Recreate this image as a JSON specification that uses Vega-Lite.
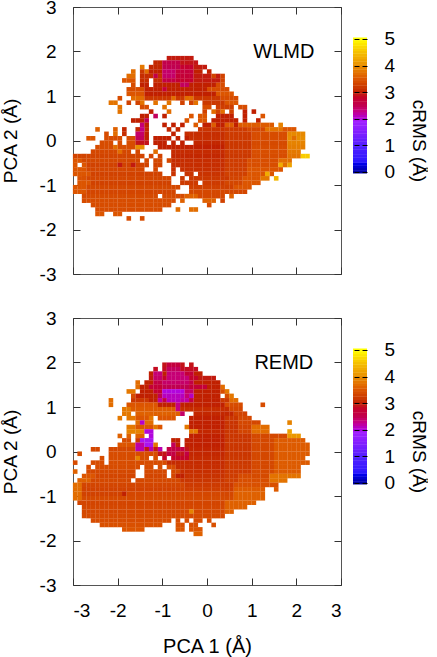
{"$schema":"https://vega.github.io/schema/vega-lite/v6.json","background":"white","padding":{"left":0,"top":-3,"right":0,"bottom":0},"spacing":23,"config":{"font":"Liberation Sans","view":{"stroke":"#555555"},"axis":{"labelFont":"Liberation Sans","titleFont":"Liberation Sans","labelFontSize":19,"titleFontSize":19,"labelColor":"black","titleColor":"black","titleFontWeight":"normal","grid":false,"domain":false,"tickColor":"#333333","tickSize":-7,"labelPadding":10}},
"datasets":{"bar":[{"c":0},{"c":0.1},{"c":0.2},{"c":0.3},{"c":0.4},{"c":0.5},{"c":0.6},{"c":0.7},{"c":0.8},{"c":0.9},{"c":1},{"c":1.1},{"c":1.2},{"c":1.3},{"c":1.4},{"c":1.5},{"c":1.6},{"c":1.7},{"c":1.8},{"c":1.9},{"c":2},{"c":2.1},{"c":2.2},{"c":2.3},{"c":2.4},{"c":2.5},{"c":2.6},{"c":2.7},{"c":2.8},{"c":2.9},{"c":3},{"c":3.1},{"c":3.2},{"c":3.3},{"c":3.4},{"c":3.5},{"c":3.6},{"c":3.7},{"c":3.8},{"c":3.9},{"c":4},{"c":4.1},{"c":4.2},{"c":4.3},{"c":4.4},{"c":4.5},{"c":4.6},{"c":4.7},{"c":4.8},{"c":4.9},{"c":5}],
"w":[
{"y":1.8,"c":2.95,"x":[-0.9,-0.8,-0.7,-0.6,-0.5,-0.4]},
{"y":1.7,"c":3.05,"x":[-1.2,-1.1]},{"y":1.7,"c":2.55,"x":[-1,-0.9,-0.8,-0.7]},{"y":1.7,"c":2.9,"x":[-0.6,-0.5,-0.4,-0.3]},
{"y":1.6,"c":3.8,"x":[-1.5]},{"y":1.6,"c":3.05,"x":[-1.3,-1.2,-1.1]},{"y":1.6,"c":2.5,"x":[-1,-0.9,-0.8,-0.7]},{"y":1.6,"c":2.75,"x":[-0.6,-0.5,-0.4]},{"y":1.6,"c":2.95,"x":[-0.3,-0.2,-0.1]},
{"y":1.5,"c":3.7,"x":[-1.7,-1.4]},{"y":1.5,"c":3.2,"x":[-1.5]},{"y":1.5,"c":3,"x":[-1.3,-1.2,-1.1,-0.3,-0.2,0]},{"y":1.5,"c":2.4,"x":[-1,-0.9,-0.8]},{"y":1.5,"c":2.65,"x":[-0.7,-0.6,-0.5,-0.4]},
{"y":1.4,"c":3.7,"x":[-1.8,-1.7]},{"y":1.4,"c":3.1,"x":[-1.5,-1.4,-1.3,-1.1]},{"y":1.4,"c":2.6,"x":[-1.2]},{"y":1.4,"c":2.4,"x":[-1,-0.9,-0.8]},{"y":1.4,"c":2.7,"x":[-0.7,-0.6,-0.5,-0.4]},{"y":1.4,"c":2.95,"x":[-0.3,-0.2,-0.1,0,0.2]},{"y":1.4,"c":3.3,"x":[0.1,0.3]},
{"y":1.3,"c":3.5,"x":[-1.9,-1.8,-1.7]},{"y":1.3,"c":3.1,"x":[-1.5,-1.4,-1.2,-1.1]},{"y":1.3,"c":2.6,"x":[-1,-0.9,-0.8]},{"y":1.3,"c":2.75,"x":[-0.7,-0.6,-0.5,-0.4]},{"y":1.3,"c":2.95,"x":[-0.3,-0.2,-0.1,0,0.1,0.2]},{"y":1.3,"c":3.3,"x":[0.3]},
{"y":1.2,"c":3.4,"x":[-1.7,0.2,0.3]},{"y":1.2,"c":3,"x":[-1.5,-1.4,-1.2,-1.1,-1,-0.9,-0.8,-0.7,-0.4,-0.3,-0.2,-0.1,0,0.1]},{"y":1.2,"c":2.45,"x":[-0.6,-0.5]},
{"y":1.1,"c":3.4,"x":[-1.8,-1.7,-1.6,-1.5,0,0.1,0.2,0.3,0.4]},{"y":1.1,"c":3,"x":[-1.4,-1.3,-1.2,-1.1,-0.9,-0.8,-0.7,-0.6,-0.5,-0.4,-0.3,-0.2,-0.1]},{"y":1.1,"c":2.7,"x":[-1]},
{"y":1,"c":3.5,"x":[-1.8,-1.7,-1.6,-1.5,0.2,0.3,0.4,0.5]},{"y":1,"c":3,"x":[-1.4,-1.3,-1.2,-1.1,-1,-0.9,-0.8,-0.7,-0.6,-0.5,-0.4,-0.3,-0.2,-0.1,0,0.1]},
{"y":0.9,"c":3.7,"x":[-1.7,-1.6,-1.5,-0.8,-0.5,-0.4]},{"y":0.9,"c":3.4,"x":[-2,0.3,0.4,0.5,0.6]},{"y":0.9,"c":3.2,"x":[-1.4,-1.3,-1.2,-1.1,-1,-0.9,-0.7,-0.6,-0.3,-0.2,-0.1,0,0.1,0.2]},
{"y":0.8,"c":3.75,"x":[-2.2,-2.1,-1.5,-1.2,-0.9,-0.3]},{"y":0.8,"c":3.3,"x":[-1.8,-1.6,-0.6,-0.4]},{"y":0.8,"c":3.2,"x":[-0.1,0,0.1,0.2,0.3]},{"y":0.8,"c":3.5,"x":[0.4,0.5,0.6]},
{"y":0.7,"c":3.75,"x":[-2,-1]},{"y":0.7,"c":3.4,"x":[-1.5,-1.4,-0.1,0,0.7,0.8]},{"y":0.7,"c":3.25,"x":[0.2,0.3,0.4,0.5]},
{"y":0.6,"c":3.75,"x":[-2]},{"y":0.6,"c":3,"x":[-1.3,0.8,1]},{"y":0.6,"c":3.7,"x":[-0.9,0.1,0.3]},{"y":0.6,"c":3.3,"x":[-0.1,0.2,0.5]},
{"y":0.5,"c":3,"x":[-1.5,-1.4,-1,0.2,0.3,0.4,0.5,0.8]},{"y":0.5,"c":2.45,"x":[-1.2]},{"y":0.5,"c":3.5,"x":[-0.4,-0.2,-0.1,1.2]},
{"y":0.4,"c":3,"x":[-1.7,-1.6,-1.5,0.1,0.2,0.3,0.4,0.5,0.6,0.8,1.1]},{"y":0.4,"c":2.5,"x":[-1.4]},{"y":0.4,"c":3.5,"x":[-0.5,-0.2,-0.1]},
{"y":0.3,"c":2.35,"x":[-1.5]},{"y":0.3,"c":3,"x":[-1.4,-1,-0.8,-0.6,-0.1,0,0.2,0.3,0.6]},{"y":0.3,"c":3.55,"x":[-0.3,0.1,0.4,0.5,0.7,0.8,0.9,1,1.1,1.2,1.3,1.4]},{"y":0.3,"c":3.9,"x":[1.6]},
{"y":0.2,"c":3.6,"x":[-2.5,-2.1]},{"y":0.2,"c":3.05,"x":[-1.9,-1.6,-1.4,-0.9,-0.7]},{"y":0.2,"c":2.3,"x":[-1.5]},{"y":0.2,"c":3.15,"x":[-0.2,-0.1,0,0.1,0.2,0.3]},{"y":0.2,"c":3.22,"x":[0.4,0.5,0.6,0.7,0.8]},{"y":0.2,"c":3.35,"x":[0.9,1,1.1,1.2]},{"y":0.2,"c":3.75,"x":[1.3,1.4,1.5,1.6]},{"y":0.2,"c":3.5,"x":[1.7,1.8,1.9]},
{"y":0.1,"c":3.4,"x":[-2.3]},{"y":0.1,"c":3.7,"x":[-2.1]},{"y":0.1,"c":3.1,"x":[-1.9,-0.5,-0.4,-0.3,-0.2,-0.1,0,0.1,0.2,0.3]},{"y":0.1,"c":2.4,"x":[-1.6,-1.5]},{"y":0.1,"c":3,"x":[-1.4,-0.8]},{"y":0.1,"c":3.22,"x":[0.4,0.5,0.6,0.7,0.8,0.9]},{"y":0.1,"c":3.4,"x":[1,1.1,1.2,1.3,1.4,1.5,1.6,1.7]},{"y":0.1,"c":3.95,"x":[1.8,1.9,2,2.1]},
{"y":0,"c":3.5,"x":[-2.7,-2.6]},{"y":0,"c":3.4,"x":[-2.3,-2.2,-2.1,-2,-1.8,-1.7]},{"y":0,"c":2.45,"x":[-1.6,-1.5]},{"y":0,"c":3,"x":[-1.4,-1.2,-1.1,-1,-0.9,-0.7,-0.5]},{"y":0,"c":3.12,"x":[-0.4,-0.3,-0.2,-0.1,0,0.1,0.2,0.3]},{"y":0,"c":3.22,"x":[0.4,0.5,0.6,0.7,0.8,0.9]},{"y":0,"c":3.4,"x":[1,1.1,1.2,1.3,1.4,1.5,1.6,1.7]},{"y":0,"c":4,"x":[1.8,2,2.1]},{"y":0,"c":3.7,"x":[1.9]},
{"y":-0.1,"c":3.4,"x":[-2.4,-2.3,-2.2,-2,-1.8,-1.7]},{"y":-0.1,"c":2.9,"x":[-1.6,-1.5,-1.4]},{"y":-0.1,"c":3,"x":[-1.2,-1.1,-1,-0.8,-0.6]},{"y":-0.1,"c":3.05,"x":[-0.3,-0.2,-0.1,0,0.1,0.2,0.3]},{"y":-0.1,"c":3.2,"x":[0.4,0.5,0.6,0.7,0.8,0.9]},{"y":-0.1,"c":3.38,"x":[1,1.1,1.2,1.3,1.4,1.5,1.6,1.7]},{"y":-0.1,"c":3.9,"x":[1.8,1.9,2,2.1]},
{"y":-0.2,"c":3.4,"x":[-2.5,-2.4,-2.3,-2.2,-2,-1.9,-1.8,-1.7]},{"y":-0.2,"c":3.7,"x":[-2.1]},{"y":-0.2,"c":4,"x":[-1.6,-1.5]},{"y":-0.2,"c":3,"x":[-1.1,-1,-0.9,-0.8,-0.7,-0.6,-0.5,-0.4,-0.3,-0.2,-0.1,0,0.1,0.2,0.3]},{"y":-0.2,"c":3.2,"x":[0.4,0.5,0.6,0.7,0.8,0.9]},{"y":-0.2,"c":3.4,"x":[1,1.1,1.2,1.3,1.4,1.5,1.6,1.7]},{"y":-0.2,"c":3.85,"x":[1.8,1.9,2,2.1]},
{"y":-0.3,"c":3.35,"x":[-2.6,-2.5,-2.4,-2.3,-2.2,-2.1,-1.9,-1.8,-1.6]},{"y":-0.3,"c":3.7,"x":[-2,-1.2]},{"y":-0.3,"c":3.08,"x":[-0.8,-0.7,-0.6,-0.5,-0.4,-0.3,-0.2,-0.1,0,0.1,0.2,0.3]},{"y":-0.3,"c":3.22,"x":[0.4,0.5,0.6,0.7,0.8,0.9]},{"y":-0.3,"c":3.42,"x":[1,1.1,1.2,1.3,1.4,1.5,1.6,1.7]},{"y":-0.3,"c":3.8,"x":[1.8,1.9,2]},
{"y":-0.4,"c":3.32,"x":[-3,-2.9,-2.8,-2.7,-2.6,-2.5,-2.4,-2.3,-2.2,-2.1,-2,-1.9,-1.8,-1.7,-1.6,-1.5,-1.3,-1.1]},{"y":-0.4,"c":3.05,"x":[-0.8,-0.7,-0.6,-0.5,-0.4,-0.3,-0.2,-0.1,0,0.1,0.2,0.3]},{"y":-0.4,"c":3.2,"x":[0.4,0.5,0.6,0.7,0.8,0.9]},{"y":-0.4,"c":3.4,"x":[1,1.1,1.2,1.3,1.4,1.5,1.6,1.7]},{"y":-0.4,"c":3.75,"x":[1.8,1.9,2]},{"y":-0.4,"c":4.6,"x":[2.1,2.2]},
{"y":-0.5,"c":3.5,"x":[-3,-2.9]},{"y":-0.5,"c":3.36,"x":[-2.8,-2.7,-2.6,-2.5,-2.4,-2.3,-2.2,-2.1,-2,-1.9,-1.8,-1.7,-1.6,-1.4,-1.2,-1.1,-0.9]},{"y":-0.5,"c":3.1,"x":[-0.8,-0.7,-0.6,-0.5,-0.4,-0.3,-0.2,-0.1,0,0.1,0.2,0.3]},{"y":-0.5,"c":3.24,"x":[0.4,0.5,0.6,0.7,0.8]},{"y":-0.5,"c":3.42,"x":[0.9,1,1.1,1.2,1.3,1.4,1.5]},{"y":-0.5,"c":3.7,"x":[1.6,1.7,1.8]},
{"y":-0.6,"c":3.5,"x":[-3,-2.8]},{"y":-0.6,"c":3.3,"x":[-2.7,-2.6,-2.5,-2.4,-2.3,-2.2,-2.1,-1.9,-1.8,-1.6,-1.5,-1.4,-1.2,-1.1]},{"y":-0.6,"c":2.95,"x":[-2,-1.7]},{"y":-0.6,"c":3.1,"x":[-0.8,-0.7,-0.6,-0.5,-0.4,-0.3,-0.2,-0.1,0,0.1,0.2,0.3]},{"y":-0.6,"c":3.24,"x":[0.4,0.5,0.6,0.7,0.8]},{"y":-0.6,"c":3.42,"x":[0.9,1,1.1,1.2,1.3,1.4,1.5]},{"y":-0.6,"c":4.3,"x":[1.6]},{"y":-0.6,"c":3.7,"x":[1.7]},{"y":-0.6,"c":4.2,"x":[1.8]},
{"y":-0.7,"c":3.5,"x":[-3,-2.9,-2.8]},{"y":-0.7,"c":3.34,"x":[-2.7,-2.6,-2.5,-2.4,-2.3,-2.2,-2.1,-2,-1.9,-1.8,-1.7,-1.6,-1.5,-1.2]},{"y":-0.7,"c":3.12,"x":[-0.8,-0.6,-0.5,-0.4,-0.3,-0.2,-0.1,0,0.1,0.2,0.3]},{"y":-0.7,"c":3.26,"x":[0.4,0.5,0.6,0.7,0.8]},{"y":-0.7,"c":3.5,"x":[0.9,1,1.1,1.2,1.3,1.4,1.5,1.6]},
{"y":-0.8,"c":3.5,"x":[-3,-2.9,-2.8,-2.7]},{"y":-0.8,"c":3.3,"x":[-2.6,-2.5,-2.4,-2.3,-2.2,-2.1,-2,-1.9,-1.8,-1.7,-1.6,-1.5,-1.4,-1.3,-1.2,-1.1]},{"y":-0.8,"c":3.15,"x":[-0.8,-0.5,-0.4,-0.2,-0.1,0,0.1,0.2,0.3]},{"y":-0.8,"c":3.28,"x":[0.4,0.5,0.6,0.7,0.8]},{"y":-0.8,"c":3.5,"x":[0.9,1,1.1,1.2,1.4]},{"y":-0.8,"c":4.3,"x":[1.3]},
{"y":-0.9,"c":3.45,"x":[-2.9,-2.8]},{"y":-0.9,"c":3.34,"x":[-2.7,-2.6,-2.5,-2.4,-2.3,-2.2,-2.1,-2,-1.9,-1.8,-1.7,-1.6,-1.5,-1.4,-1.3,-1.2,-1.1,-1,-0.9]},{"y":-0.9,"c":3.2,"x":[-0.6,-0.4,-0.3,-0.2,-0.1,0,0.1,0.2,0.3,0.4]},{"y":-0.9,"c":3.32,"x":[0.5,0.6,0.7]},{"y":-0.9,"c":3.5,"x":[0.8,0.9,1,1.1]},{"y":-0.9,"c":3.8,"x":[1.2,1.3]},{"y":-0.9,"c":4.4,"x":[1.5]},
{"y":-1,"c":3.5,"x":[-2.9,-2.8,-2.7]},{"y":-1,"c":3.3,"x":[-2.6,-2.5,-2.4,-2.3,-2.2,-2.1,-2,-1.9,-1.8,-1.7,-1.6,-1.5,-1.4,-1.3,-1.2,-1.1,-1,-0.9]},{"y":-1,"c":3.22,"x":[-0.6,-0.5,-0.4,-0.3,-0.1,0,0.1,0.2,0.3]},{"y":-1,"c":3.34,"x":[0.4,0.5,0.6,0.7]},{"y":-1,"c":3.5,"x":[0.8,0.9,1,1.1]},
{"y":-1.1,"c":3.5,"x":[-3,-2.9,-2.8]},{"y":-1.1,"c":3.36,"x":[-2.7,-2.6,-2.5,-2.4,-2.3,-2.2,-2.1,-2,-1.9,-1.8,-1.7,-1.6,-1.5,-1.4,-1.3,-1.2,-1.1,-1,-0.9,-0.8,-0.7]},{"y":-1.1,"c":3.28,"x":[-0.4,-0.3,-0.2,-0.1,0,0.1,0.2,0.3,0.4,0.5]},{"y":-1.1,"c":3.5,"x":[0.6,0.7,0.8,0.9]},
{"y":-1.2,"c":3.5,"x":[-3,-2.9,-2.8]},{"y":-1.2,"c":3.33,"x":[-2.7,-2.6,-2.5,-2.4,-2.3,-2.2,-2.1,-2,-1.9,-1.8,-1.7,-1.6,-1.5,-1.4,-1.3,-1.2,-1.1,-1,-0.9,-0.8]},{"y":-1.2,"c":3.35,"x":[-0.4,-0.3,-0.2,-0.1,0,0.1,0.2,0.3,0.4,0.5,0.6,0.7,0.8]},
{"y":-1.3,"c":3.38,"x":[-2.8,-2.7,-2.6,-2.5,-2.4,-2.3,-2.2,-2.1,-2,-1.9,-1.8,-1.7,-1.6,-1.5,-1.4,-1.3,-1.2,-1,-0.9,-0.8,-0.7,-0.6]},{"y":-1.3,"c":3.6,"x":[-0.5,-0.4,-0.3,0.5]},{"y":-1.3,"c":3.35,"x":[-0.2,-0.1,0,0.1,0.2,0.3]},
{"y":-1.4,"c":3.4,"x":[-2.8,-2.7,-2.6,-2.5,-2.4,-2.3,-2.2,-2.1,-2,-1.9,-1.8,-1.7,-1.6,-1.5,-1.4,-1.3,-1.2,-1.1,-1,-0.9,-0.8]},{"y":-1.4,"c":3.6,"x":[-0.6,-0.1,0,0.1]},{"y":-1.4,"c":3.3,"x":[0.3]},
{"y":-1.5,"c":3.4,"x":[-2.6,-2.5,-2.4,-2.3,-2.2,-2.1,-2,-1.9,-1.8,-1.7,-1.6,-1.5,-1.4,-1.3,-1.2,-1.1,-1,-0.9,0]},
{"y":-1.6,"c":3.4,"x":[-2.5,-2.4,-2.3,-2.2,-2.1,-2,-1.9,-1.8,-1.7,-1.6,-1.5,-1.4,-1.3,-1.2,-1.1]},{"y":-1.6,"c":3.7,"x":[-0.7,-0.4,-0.3]},
{"y":-1.7,"c":3.5,"x":[-2.5,-2.4,-2.1,-2]},
{"y":-1.8,"c":3.4,"x":[-1.8,-1.5]}
],
"r":[
{"y":1.9,"c":2.9,"x":[-1,-0.6,-0.4]},{"y":1.9,"c":2.65,"x":[-0.9,-0.8,-0.7]},
{"y":1.8,"c":2.85,"x":[-1.2,-1,-0.6,-0.5,-0.4,-0.3]},{"y":1.8,"c":2.45,"x":[-0.9,-0.8,-0.7]},
{"y":1.7,"c":3,"x":[-1.3,-1,-0.3,-0.2]},{"y":1.7,"c":2.35,"x":[-1.2,-1.1,-0.9,-0.8,-0.7,-0.6]},{"y":1.7,"c":2.7,"x":[-0.5,-0.4]},
{"y":1.6,"c":2.95,"x":[-1.3,-0.2,-0.1,0,0.1]},{"y":1.6,"c":2.4,"x":[-1.2,-1.1]},{"y":1.6,"c":2.8,"x":[-1,-0.4,-0.3]},{"y":1.6,"c":2.35,"x":[-0.9,-0.8,-0.7,-0.6,-0.5]},
{"y":1.5,"c":3.7,"x":[-1.6]},{"y":1.5,"c":3,"x":[-1.4,-1.3,-0.3,-0.2,-0.1,0,0.1,0.2]},{"y":1.5,"c":2.6,"x":[-1.2,-1.1,-0.4]},{"y":1.5,"c":2.4,"x":[-1,-0.9,-0.8,-0.7,-0.6,-0.5]},
{"y":1.4,"c":3.7,"x":[-1.6,0.3]},{"y":1.4,"c":3,"x":[-1.5,-1.4,0,0.1,0.2]},{"y":1.4,"c":2.7,"x":[-1.3,-1.2,-1.1,-0.4,-0.3,-0.2,-0.1]},{"y":1.4,"c":2.5,"x":[-1,-0.9,-0.8,-0.7,-0.6,-0.5]},
{"y":1.3,"c":3.8,"x":[-1.8,-1.7,0.4]},{"y":1.3,"c":3,"x":[-1.5,-1.4,-1.3,-0.3,-0.2,-0.1,0,0.1,0.2]},{"y":1.3,"c":2.75,"x":[-1.2,-1.1]},{"y":1.3,"c":2,"x":[-1,-0.9,-0.8,-0.7,-0.6]},{"y":1.3,"c":2.4,"x":[-0.5,-0.4]},{"y":1.3,"c":3.4,"x":[0.3]},
{"y":1.2,"c":3.4,"x":[-1.7,0.4]},{"y":1.2,"c":3,"x":[-1.6,-1.5,-1.4,-1.3,-1.2,-0.3,-0.2,-0.1,0,0.1,0.2]},{"y":1.2,"c":2.5,"x":[-1.1]},{"y":1.2,"c":2.1,"x":[-1,-0.9,-0.8,-0.7,-0.6,-0.4]},{"y":1.2,"c":2.35,"x":[-0.5]},{"y":1.2,"c":3.8,"x":[0.5]},
{"y":1.1,"c":3.7,"x":[-2.2,0.5,0.6]},{"y":1.1,"c":3.2,"x":[-1.7,-1.6,-1.5,-1.4,0.3,0.4]},{"y":1.1,"c":3,"x":[-1.3,-1.2,-0.3,-0.2,-0.1,0,0.1,0.2]},{"y":1.1,"c":2.2,"x":[-1.1,-0.6,-0.5]},{"y":1.1,"c":2.6,"x":[-1,-0.4]},{"y":1.1,"c":2.1,"x":[-0.9,-0.8,-0.7]},
{"y":1,"c":3.7,"x":[-2.2]},{"y":1,"c":3.5,"x":[-1.8,-1.7,-1.6,-1.5,-1.4,-1.3,-1.2]},{"y":1,"c":3,"x":[-1.1,-1,-0.9,-0.8,-0.6,-0.5,-0.4,-0.3,-0.2,-0.1,0,0.1,0.2,0.3]},{"y":1,"c":2.3,"x":[-0.7]},{"y":1,"c":3.4,"x":[0.4,0.5,0.6,0.7,1.2]},
{"y":0.9,"c":3.8,"x":[-1.9,-1.8]},{"y":0.9,"c":3.55,"x":[-1.7,-1.6,-1.5,-1.4,-1.3,-1.2,-1.1,-1,-0.9,-0.8]},{"y":0.9,"c":2.3,"x":[-0.7]},{"y":0.9,"c":3.1,"x":[-0.6,-0.5,-0.4,-0.3,-0.2,-0.1,0,0.1,0.2,0.3,0.4]},{"y":0.9,"c":3.35,"x":[0.5,0.6,0.7]},
{"y":0.8,"c":3.8,"x":[-1.9,-1.8]},{"y":0.8,"c":3.6,"x":[-1.6,-1.5,-1.4,-1.3,-1.2,-1.1,-1,-0.9,-0.8,-0.7]},{"y":0.8,"c":2.4,"x":[-0.6]},{"y":0.8,"c":3.05,"x":[-0.3,-0.2,-0.1,0,0.1,0.2,0.3,0.4,0.5]},{"y":0.8,"c":3.3,"x":[0.6,0.7,0.8]},
{"y":0.7,"c":3.8,"x":[-2,-1.8,-1.7,-1.3]},{"y":0.7,"c":3.5,"x":[-1.6,-1.5,-1.4,-1.1,-1,-0.9,-0.8]},{"y":0.7,"c":3,"x":[-0.4,-0.3,-0.2,-0.1,0,0.1,0.2,0.3]},{"y":0.7,"c":3.18,"x":[0.4,0.5,0.6]},{"y":0.7,"c":3.35,"x":[0.7,0.8,0.9]},
{"y":0.6,"c":3.7,"x":[-1.6,-1.4,-1.3]},{"y":0.6,"c":2.05,"x":[-1.5]},{"y":0.6,"c":3,"x":[-0.4,-0.3,-0.2,-0.1,0,0.1,0.2,0.3]},{"y":0.6,"c":3.16,"x":[0.4,0.5,0.6]},{"y":0.6,"c":3.35,"x":[0.7,0.8,0.9,1,1.1]},{"y":0.6,"c":3.9,"x":[1.8]},
{"y":0.5,"c":3.8,"x":[-1.8,-1.7,-1.2,-0.5]},{"y":0.5,"c":3.5,"x":[-1.6,-1.5,-1.4,-1.3,-1.1]},{"y":0.5,"c":3,"x":[-0.4,-0.3,-0.2,-0.1,0,0.1,0.2,0.3]},{"y":0.5,"c":3.16,"x":[0.4,0.5,0.6]},{"y":0.5,"c":3.32,"x":[0.7,0.8,0.9]},{"y":0.5,"c":3.7,"x":[1,1.1,1.2,1.3]},
{"y":0.4,"c":3.9,"x":[-1.8,-1.7,-1.6,-1.5]},{"y":0.4,"c":2,"x":[-1.4,-1.3]},{"y":0.4,"c":3.8,"x":[-0.4,-0.3]},{"y":0.4,"c":3.05,"x":[-0.2,-0.1,0,0.1,0.2,0.3]},{"y":0.4,"c":3.18,"x":[0.4,0.5,0.6]},{"y":0.4,"c":3.32,"x":[0.7,0.8,0.9]},{"y":0.4,"c":3.7,"x":[1,1.1,1.2,1.3]},{"y":0.4,"c":4.2,"x":[1.8]},
{"y":0.3,"c":3.6,"x":[-2,-1.8,-1.6,-1.5]},{"y":0.3,"c":2,"x":[-1.3]},{"y":0.3,"c":3,"x":[-0.4,-0.3,-0.2,-0.1,0,0.1,0.2,0.3]},{"y":0.3,"c":3.18,"x":[0.4,0.5,0.6,0.7,0.8,0.9]},{"y":0.3,"c":3.36,"x":[1,1.1,1.2,1.3,1.4,1.5,1.6,1.7]},{"y":0.3,"c":4.1,"x":[1.8,1.9,2]},
{"y":0.2,"c":3.4,"x":[-1.9,-1.8]},{"y":0.2,"c":3.2,"x":[-1.6]},{"y":0.2,"c":1.95,"x":[-1.5,-1.4,-1.3]},{"y":0.2,"c":3,"x":[-0.8,-0.7,-0.5,-0.4,-0.3,-0.2,-0.1,0,0.1,0.2,0.3]},{"y":0.2,"c":3.18,"x":[0.4,0.5,0.6,0.7,0.8,0.9]},{"y":0.2,"c":3.36,"x":[1,1.1,1.2,1.3,1.4]},{"y":0.2,"c":3.55,"x":[1.5,1.6,1.7,1.8,1.9,2,2.1]},
{"y":0.1,"c":3.5,"x":[-2,-1.9,-1.8,-1.7]},{"y":0.1,"c":2.2,"x":[-1.6,-1.5]},{"y":0.1,"c":1.95,"x":[-1.4,-1.3]},{"y":0.1,"c":3.8,"x":[-1.2]},{"y":0.1,"c":2.45,"x":[-0.8]},{"y":0.1,"c":3,"x":[-0.7,-0.5,-0.4,-0.3,-0.2,-0.1,0,0.1,0.2,0.3]},{"y":0.1,"c":3.18,"x":[0.4,0.5,0.6,0.7,0.8,0.9]},{"y":0.1,"c":3.36,"x":[1,1.1,1.2,1.3,1.4]},{"y":0.1,"c":3.55,"x":[1.5,1.6,1.7,1.8,1.9,2,2.1,2.2]},
{"y":0,"c":3.35,"x":[-2.6,-2.5,-2.2,-2.1,-2,-1.9,-1.8,-1.7]},{"y":0,"c":2.15,"x":[-1.6,-1.5,-1.3,-1.1]},{"y":0,"c":2.9,"x":[-1.4,-1.2,-0.5]},{"y":0,"c":2.6,"x":[-0.9,-0.8,-0.7,-0.6]},{"y":0,"c":3.03,"x":[-0.4,-0.3,-0.2,-0.1,0,0.1,0.2,0.3]},{"y":0,"c":3.18,"x":[0.4,0.5,0.6,0.7,0.8,0.9]},{"y":0,"c":3.36,"x":[1,1.1,1.2,1.3,1.4]},{"y":0,"c":3.55,"x":[1.5,1.6,1.7,1.8,1.9,2,2.1,2.2]},
{"y":-0.1,"c":3.4,"x":[-2.9,-2.2,-2.1,-2,-1.9,-1.8,-1.7,-1.6,-1.5,-1.4,-1.3,-1.2]},{"y":-0.1,"c":2.9,"x":[-1.1,-1,-0.7,-0.6]},{"y":-0.1,"c":2.6,"x":[-0.9,-0.8,-0.5]},{"y":-0.1,"c":3.05,"x":[-0.4,-0.3,-0.2,-0.1,0,0.1,0.2,0.3]},{"y":-0.1,"c":3.18,"x":[0.4,0.5,0.6,0.7,0.8,0.9]},{"y":-0.1,"c":3.36,"x":[1,1.1,1.2,1.3,1.4]},{"y":-0.1,"c":3.55,"x":[1.5,1.6,1.7,1.8,1.9,2,2.1,2.2]},
{"y":-0.2,"c":3.4,"x":[-2.4,-2.2,-2.1,-2,-1.9,-1.8,-1.7,-1.5,-1.4,-1.2]},{"y":-0.2,"c":3.9,"x":[-1.6]},{"y":-0.2,"c":2.8,"x":[-1,-0.8,-0.7,-0.6,-0.5]},{"y":-0.2,"c":3.08,"x":[-0.4,-0.3,-0.2,-0.1,0,0.1,0.2,0.3]},{"y":-0.2,"c":3.2,"x":[0.4,0.5,0.6,0.7,0.8,0.9]},{"y":-0.2,"c":3.36,"x":[1,1.1,1.2,1.3,1.4]},{"y":-0.2,"c":3.55,"x":[1.5,1.6,1.7,1.8,1.9,2,2.1]},
{"y":-0.3,"c":3.4,"x":[-3,-2.6,-2.5,-2.4,-2.2,-2.1,-2,-1.9,-1.8,-1.7,-1.6,-1.5,-1.4,-1.3,-1.2,-1.1,-1]},{"y":-0.3,"c":3.08,"x":[-0.9,-0.8,-0.7,-0.6,-0.5,-0.4,-0.3,-0.2,-0.1,0,0.1,0.2,0.3]},{"y":-0.3,"c":3.2,"x":[0.4,0.5,0.6,0.7,0.8,0.9]},{"y":-0.3,"c":3.36,"x":[1,1.1,1.2,1.3,1.4]},{"y":-0.3,"c":3.55,"x":[1.5,1.6,1.7,1.8,1.9,2,2.1,2.2]},
{"y":-0.4,"c":3.4,"x":[-2.7,-2.5,-2.4,-2.3,-2.2,-2.1,-2,-1.9,-1.8,-1.7,-1.6,-1.4,-1.3,-1.1,-0.9,-0.8]},{"y":-0.4,"c":3.1,"x":[-0.7,-0.6,-0.5,-0.4,-0.3,-0.2,-0.1,0,0.1,0.2,0.3]},{"y":-0.4,"c":3.22,"x":[0.4,0.5,0.6,0.7,0.8,0.9]},{"y":-0.4,"c":3.36,"x":[1,1.1,1.2,1.3,1.4]},{"y":-0.4,"c":3.55,"x":[1.5,1.6,1.7,1.8,1.9,2]},
{"y":-0.5,"c":3.6,"x":[-3]},{"y":-0.5,"c":3.36,"x":[-2.7,-2.6,-2.5,-2.4,-2.3,-2.2,-2.1,-2,-1.9,-1.8,-1.7,-1.4,-1.3,-1.2,-1.1,-1,-0.8,-0.7]},{"y":-0.5,"c":3.12,"x":[-0.6,-0.5,-0.4,-0.3,-0.2,-0.1,0,0.1,0.2,0.3]},{"y":-0.5,"c":3.22,"x":[0.4,0.5,0.6,0.7,0.8,0.9]},{"y":-0.5,"c":3.38,"x":[1,1.1,1.2,1.3,1.4]},{"y":-0.5,"c":3.55,"x":[1.5,1.6,1.7,1.8,1.9,2]},
{"y":-0.6,"c":3.5,"x":[-2.8,-2.7,-2.6]},{"y":-0.6,"c":3.33,"x":[-2.5,-2.4,-2.3,-2.2,-2.1,-2,-1.9,-1.8,-1.7,-1.4,-1.3,-1.2,-1.1,-1,-0.8]},{"y":-0.6,"c":3,"x":[-0.7,-0.6]},{"y":-0.6,"c":3.14,"x":[-0.5,-0.4,-0.3,-0.2,-0.1,0,0.1,0.2,0.3]},{"y":-0.6,"c":3.24,"x":[0.4,0.5,0.6]},{"y":-0.6,"c":3.38,"x":[0.7,0.8,0.9,1,1.1,1.2,1.3]},{"y":-0.6,"c":3.75,"x":[1.4,1.5,1.6,1.7,1.8,1.9,2]},
{"y":-0.7,"c":3.6,"x":[-2.9,-2.8,-2.7]},{"y":-0.7,"c":3.36,"x":[-2.6,-2.5,-2.4,-2.3,-2.2,-2.1,-2,-1.9,-1.8,-1.6,-1.5,-1.4,-1.3,-1.2,-1.1,-1,-0.9,-0.8,-0.7]},{"y":-0.7,"c":3.18,"x":[-0.6,-0.5,-0.4,-0.3,-0.2,-0.1,0,0.1,0.2,0.3]},{"y":-0.7,"c":3.28,"x":[0.4,0.5,0.6]},{"y":-0.7,"c":3.42,"x":[0.7,0.8,0.9,1,1.1,1.2,1.3]},{"y":-0.7,"c":3.75,"x":[1.4,1.5,1.6,1.7]},
{"y":-0.8,"c":3.7,"x":[-3,-2.9]},{"y":-0.8,"c":3.33,"x":[-2.8,-2.7,-2.6,-2.5,-2.4,-2.3,-2.2,-2.1,-2,-1.9,-1.8,-1.7,-1.6,-1.5,-1.4,-1.3,-1.2,-1.1,-1,-0.9,-0.8,-0.7,-0.6]},{"y":-0.8,"c":3.22,"x":[-0.5,-0.4,-0.3,-0.2,-0.1,0,0.1,0.2,0.3,0.4,0.5]},{"y":-0.8,"c":3.45,"x":[0.6,0.7,0.8,0.9,1,1.1,1.2,1.3,1.4,1.5]},
{"y":-0.9,"c":3.7,"x":[-3,-2.9]},{"y":-0.9,"c":3.3,"x":[-2.8,-2.7,-2.6,-2.5,-2.4,-2.3,-2.2,-2.1,-2,-1.9,-1.8,-1.7,-1.6,-1.5,-1.4,-1.3,-1.2,-1.1,-1,-0.9,-0.8,-0.7,-0.6]},{"y":-0.9,"c":3.26,"x":[-0.5,-0.4,-0.3,-0.2,-0.1,0,0.1,0.2,0.3,0.4,0.5]},{"y":-0.9,"c":3.55,"x":[0.6,0.7,0.8,0.9,1,1.1,1.2,1.5]},
{"y":-1,"c":3.7,"x":[-3,-2.9]},{"y":-1,"c":3.3,"x":[-2.8,-2.7,-2.6,-2.5,-2.4,-2.3,-2.2,-2.1,-2]},{"y":-1,"c":3,"x":[-1.9]},{"y":-1,"c":3.35,"x":[-1.8,-1.7,-1.6,-1.5,-1.4,-1.3,-1.2,-1.1,-1,-0.9,-0.8,-0.7,-0.6,-0.5,-0.4,-0.3,-0.2,-0.1,0,0.1,0.2,0.3,0.4,0.5]},{"y":-1,"c":3.6,"x":[0.6,0.7,0.8,0.9,1,1.1,1.2]},
{"y":-1.1,"c":3.7,"x":[-3,-2.9]},{"y":-1.1,"c":3.38,"x":[-2.8,-2.7,-2.6,-2.5,-2.4,-2.3,-2.2,-2.1,-2,-1.9,-1.8,-1.7,-1.6,-1.5,-1.4,-1.3,-1.2,-1.1,-1,-0.9,-0.8,-0.7,-0.6,-0.5,-0.4,-0.3,-0.2,-0.1,0,0.1,0.2,0.3,0.4,0.5]},{"y":-1.1,"c":3.6,"x":[0.6,0.7,0.8,0.9,1,1.1,1.2]},
{"y":-1.2,"c":3.33,"x":[-2.9,-2.8,-2.7,-2.6,-2.5,-2.4,-2.3,-2.2,-2.1,-2,-1.9,-1.8,-1.7,-1.6,-1.5,-1.4,-1.3,-1.2,-1.1,-1,-0.9,-0.8,-0.7,-0.6,-0.5,-0.4,-0.3,-0.2,-0.1,0,0.1,0.2,0.3]},{"y":-1.2,"c":3.6,"x":[0.4,0.5,0.6,0.7,0.8,0.9,1]},
{"y":-1.3,"c":3.35,"x":[-2.8,-2.7,-2.6,-2.5,-2.4,-2.3,-2.2,-2.1,-2,-1.9,-1.8,-1.7,-1.6,-1.5,-1.4,-1.3,-1.2,-1.1,-1,-0.9,-0.8,-0.7,-0.6,-0.5,-0.4,-0.3,-0.2,-0.1,0,0.1,0.2,0.3]},{"y":-1.3,"c":3.6,"x":[0.4,0.5,0.6,0.7,0.8]},
{"y":-1.4,"c":3.36,"x":[-2.8,-2.7,-2.6,-2.5,-2.4,-2.3,-2.2,-2.1,-2,-1.9,-1.8,-1.7,-1.6,-1.5,-1.4,-1.3,-1.2,-1.1,-1,-0.9,-0.8,-0.7,-0.6,-0.5,-0.3,-0.2,-0.1,0,0.1,0.2,0.3]},{"y":-1.4,"c":3.9,"x":[-0.4]},{"y":-1.4,"c":3.6,"x":[0.4,0.5]},
{"y":-1.5,"c":3.38,"x":[-2.8,-2.7,-2.6,-2.5,-2.4,-2.3,-2.2,-2.1,-2,-1.9,-1.8,-1.7,-1.6,-1.5,-1.4,-1.3,-1.2,-1.1,-1,-0.9,-0.8,-0.7,-0.6,-0.5,-0.4,-0.3,-0.2,-0.1,0,0.1,0.2,0.3]},
{"y":-1.6,"c":3.4,"x":[-2.6,-2.5,-2.4,-2.3,-2.2,-2.1,-2,-1.9,-1.8,-1.7,-1.6,-1.5,-1.4,-1.3,-1.2,-1.1,-1,-0.9,-0.7,-0.5,-0.3,-0.2,0]},
{"y":-1.7,"c":3.45,"x":[-2.4,-2.3,-2.2,-2.1,-2,-1.9,-1.8,-1.7,-1.6,-1.5,-1.4,-1.3,-1.2,-1.1,-0.7,-0.6,-0.4,-0.3,0.1]},
{"y":-1.8,"c":3.5,"x":[-1.9,-1.8,-1.7,-1.6,-1.5,-0.7,-0.6,-0.4,-0.2,-0.3]},
{"y":-1.9,"c":3.6,"x":[-0.3,-0.2]}
]},
"vconcat":[
{"hconcat":[
{"width":268,"height":267,"data":{"name":"w"},"transform":[{"flatten":["x"]}],"layer":[{"mark":{"type":"rect","width":4.6,"height":4.6,"xOffset":2.2,"yOffset":-2.2},"encoding":{"x":{"field":"x","type":"quantitative","scale":{"domain":[-3,3],"nice":false},"axis":{"title":null,"labels":false,"values":[-3,-2,-1,0,1,2,3]}},"y":{"field":"y","type":"quantitative","scale":{"domain":[-3,3],"nice":false},"axis":{"title":"PCA 2 (Å)","values":[-3,-2,-1,0,1,2,3],"labelPadding":24,"labelExpr":"''+datum.value","titlePadding":19}},"color":{"field":"c","type":"quantitative","scale":{"domain":[0,0.4,1,1.9,2.15,2.5,3,3.5,4,4.5,5],"range":["#000000","#2a18ff","#5020ff","#a020ff","#b800b0","#c00050","#c02000","#dc5500","#e88e00","#f5c000","#ffff00"]},"legend":null}}},{"data":{"values":[{"t":"WLMD","x":1.72,"y":1.99}]},"mark":{"type":"text","fontSize":20,"font":"Liberation Sans","color":"black"},"encoding":{"text":{"field":"t"},"x":{"field":"x","type":"quantitative","axis":{"orient":"top","labels":false,"title":null,"values":[-3,-2,-1,0,1,2,3]}},"y":{"field":"y","type":"quantitative","axis":{"orient":"right","labels":false,"title":null,"values":[-3,-2,-1,0,1,2,3]}}}}],"resolve":{"axis":{"x":"independent","y":"independent"}}},
{"width":14,"height":267,"view":{"stroke":null},"data":{"name":"bar"},"layer":[{"mark":{"type":"rect","height":3},"encoding":{"y":{"field":"c","type":"quantitative","scale":{"domain":[-3.835,6.203],"nice":false},"axis":{"title":"cRMS (Å)","values":[0,1,2,3,4,5],"orient":"right","tickSize":-14,"tickDash":[5,3],"tickColor":"#000000","labelPadding":31,"titlePadding":14,"zindex":1}},"color":{"field":"c","type":"quantitative","scale":{"domain":[0,0.4,1,1.9,2.15,2.5,3,3.5,4,4.5,5],"range":["#000000","#2a18ff","#5020ff","#a020ff","#b800b0","#c00050","#c02000","#dc5500","#e88e00","#f5c000","#ffff00"]},"legend":null}}}]}
],"spacing":10},
{"hconcat":[
{"width":268,"height":267,"data":{"name":"r"},"transform":[{"flatten":["x"]}],"layer":[{"mark":{"type":"rect","width":4.6,"height":4.6,"xOffset":2.2,"yOffset":-2.2},"encoding":{"x":{"field":"x","type":"quantitative","scale":{"domain":[-3,3],"nice":false},"axis":{"title":"PCA 1 (Å)","titleFontSize":20,"values":[-3,-2,-1,0,1,2,3],"labelPadding":23,"labelExpr":"''+datum.value","titlePadding":16}},"y":{"field":"y","type":"quantitative","scale":{"domain":[-3,3],"nice":false},"axis":{"title":"PCA 2 (Å)","values":[-3,-2,-1,0,1,2,3],"labelPadding":24,"labelExpr":"''+datum.value","titlePadding":19}},"color":{"field":"c","type":"quantitative","scale":{"domain":[0,0.4,1,1.9,2.15,2.5,3,3.5,4,4.5,5],"range":["#000000","#2a18ff","#5020ff","#a020ff","#b800b0","#c00050","#c02000","#dc5500","#e88e00","#f5c000","#ffff00"]},"legend":null}}},{"data":{"values":[{"t":"REMD","x":1.72,"y":1.99}]},"mark":{"type":"text","fontSize":20,"font":"Liberation Sans","color":"black"},"encoding":{"text":{"field":"t"},"x":{"field":"x","type":"quantitative","axis":{"orient":"top","labels":false,"title":null,"values":[-3,-2,-1,0,1,2,3]}},"y":{"field":"y","type":"quantitative","axis":{"orient":"right","labels":false,"title":null,"values":[-3,-2,-1,0,1,2,3]}}}}],"resolve":{"axis":{"x":"independent","y":"independent"}}},
{"width":14,"height":267,"view":{"stroke":null},"data":{"name":"bar"},"layer":[{"mark":{"type":"rect","height":3},"encoding":{"y":{"field":"c","type":"quantitative","scale":{"domain":[-3.835,6.203],"nice":false},"axis":{"title":"cRMS (Å)","values":[0,1,2,3,4,5],"orient":"right","tickSize":-14,"tickDash":[5,3],"tickColor":"#000000","labelPadding":31,"titlePadding":14,"zindex":1}},"color":{"field":"c","type":"quantitative","scale":{"domain":[0,0.4,1,1.9,2.15,2.5,3,3.5,4,4.5,5],"range":["#000000","#2a18ff","#5020ff","#a020ff","#b800b0","#c00050","#c02000","#dc5500","#e88e00","#f5c000","#ffff00"]},"legend":null}}}]}
],"spacing":10}
],"resolve":{"scale":{"color":"shared"}}}
